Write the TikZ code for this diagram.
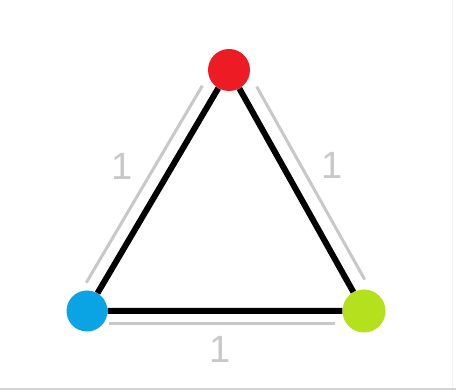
\documentclass[tikz,border=0pt]{standalone}
\usepackage{fontspec}
\setsansfont{Liberation Sans}
\usetikzlibrary{calc}
\definecolor{vred}{RGB}{237,28,36}
\definecolor{vblue}{RGB}{10,163,228}
\definecolor{vgreen}{RGB}{181,224,30}
\definecolor{measgray}{RGB}{200,200,200}
\begin{document}
\begin{tikzpicture}[x=1pt,y=1pt,
  vertex/.style={circle,inner sep=0pt,minimum size=#1},
  link/.style={line width=6pt,black},
  measure/.style={line width=3pt,measgray},
  len/.style={font=\sffamily\fontsize{38}{38}\selectfont,text=measgray,inner sep=0pt}]
 \fill[white] (0,0) rectangle (456,390);
 \useasboundingbox (0,0) rectangle (456,390);
 \draw[line width=1.5pt,measgray!80] (0,1) -- (456,1);
 \draw[line width=1pt,black!5] (452,2) -- (452,390);
 \node[vertex=42pt,fill=vred]   (red)   at (229,320) {};
 \node[vertex=41pt,fill=vblue]  (blue)  at (87,79)   {};
 \node[vertex=43pt,fill=vgreen] (green) at (364,79)  {};
 \draw[link] (blue) -- (red) -- (green) -- (blue);
 \foreach \a/\b/\d/\s/\e in {blue/red/15pt/24pt/27pt,red/green/16pt/28pt/27pt,green/blue/13pt/29pt/22pt}
  \draw[measure] ($(\a)!\s!(\b)!\d!90:(\b)$) -- ($(\b)!\e!(\a)!\d!-90:(\a)$);
 \node[len] (lenleft)   at (122.5,224) {1};
 \node[len] (lenright)  at (332.5,225) {1};
 \node[len] (lenbottom) at (220.5,41)  {1};
\end{tikzpicture}
\end{document}
